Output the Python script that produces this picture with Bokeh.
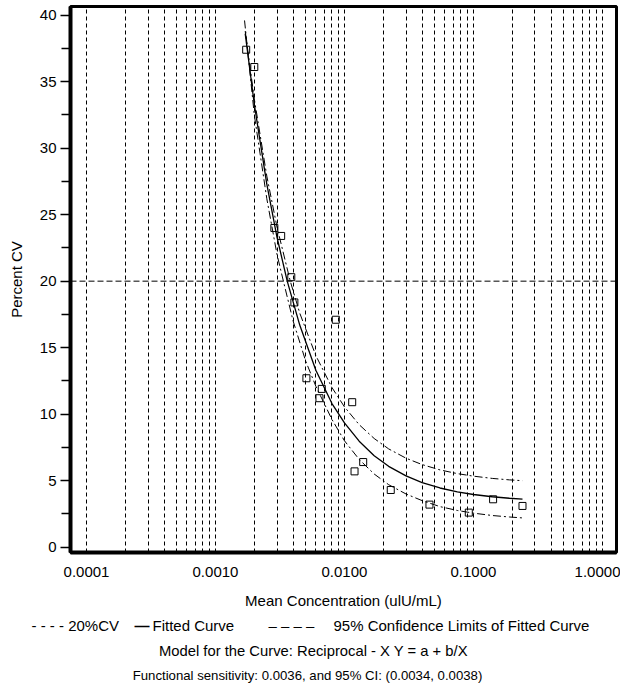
from bokeh.plotting import figure
from bokeh.layouts import column
from bokeh.models import FixedTicker, PrintfTickFormatter, Span, Range1d
from bokeh.core.properties import value
from bokeh.embed import file_html
from bokeh.resources import INLINE

# ---- data ----
conc = [0.00173, 0.00200, 0.00286, 0.00323, 0.00387, 0.00409, 0.00857, 0.00507, 0.00667,
        0.00640, 0.01148, 0.01397, 0.01197, 0.02285, 0.0456, 0.0920, 0.142, 0.240]
cv = [37.4, 36.1, 24.0, 23.4, 20.3, 18.4, 17.1, 12.7, 11.9,
      11.2, 10.9, 6.4, 5.7, 4.3, 3.2, 2.6, 3.6, 3.1]

fit_x = [0.0017, 0.002, 0.0025, 0.003, 0.0036, 0.0045, 0.006, 0.008, 0.01, 0.013,
         0.017, 0.022, 0.03, 0.04, 0.055, 0.075, 0.1, 0.14, 0.19, 0.24]
fit_y = [38.6, 33.3, 27.3, 23.3, 20.0, 16.7, 13.3, 10.8, 9.35, 7.97,
         6.88, 6.08, 5.36, 4.86, 4.45, 4.16, 3.96, 3.79, 3.68, 3.61]

upper_x = [0.0017, 0.002, 0.0025, 0.003, 0.0038, 0.0045, 0.006, 0.008, 0.01, 0.013,
           0.017, 0.022, 0.03, 0.04, 0.055, 0.075, 0.1, 0.14, 0.19, 0.24]
upper_y = [38.8, 33.7, 27.9, 24.06, 20.0, 17.6, 14.4, 12.0, 10.55, 9.21,
           8.17, 7.39, 6.69, 6.21, 5.81, 5.53, 5.34, 5.17, 5.06, 5.0]

lower_x = [0.00168, 0.002, 0.0025, 0.003, 0.0034, 0.004, 0.005, 0.006, 0.008, 0.01, 0.013,
           0.017, 0.022, 0.03, 0.04, 0.055, 0.075, 0.1, 0.14, 0.19, 0.24]
lower_y = [39.6, 32.5, 26.2, 22.0, 19.8, 17.0, 14.0, 12.1, 9.6, 8.0, 6.6,
           5.5, 4.7, 4.0, 3.5, 3.05, 2.76, 2.56, 2.38, 2.27, 2.2]

cv_limit = 20

x_ticks = [0.0001, 0.001, 0.01, 0.1, 1.0]
x_grid = [0.0001, 0.0002, 0.0003, 0.0004, 0.0005, 0.0006, 0.0007, 0.0008, 0.0009,
          0.001, 0.002, 0.003, 0.004, 0.005, 0.006, 0.007, 0.008, 0.009,
          0.01, 0.02, 0.03, 0.04, 0.05, 0.06, 0.07, 0.08, 0.09,
          0.1, 0.2, 0.3, 0.4, 0.5, 0.6, 0.7, 0.8, 0.9, 1.0]
y_ticks = [0, 5, 10, 15, 20, 25, 30, 35, 40]
y_minor = [2.5, 7.5, 12.5, 17.5, 22.5, 27.5, 32.5, 37.5]

legend_parts = ["- - - -  20%CV", "Fitted Curve", "\u2013 \u2013 \u2013 \u2013",
                "95% Confidence Limits of Fitted Curve"]
legend_dash = "\u2014"
model_text = "Model for the Curve: Reciprocal - X Y = a + b/X"
sens_text = "Functional sensitivity: 0.0036, and 95% CI: (0.0034, 0.0038)"

FONT = "Liberation Sans"

p = figure(width=620, height=612, x_axis_type="log",
           x_range=Range1d(10 ** -4.124, 10 ** 0.109), y_range=Range1d(-0.4, 40.65),
           output_backend="svg", toolbar_location=None,
           min_border_left=70, min_border_right=4, min_border_top=6, min_border_bottom=60)
p.frame_align = False

p.outline_line_color = "black"
p.outline_line_width = 3
p.background_fill_color = "white"

# grids
p.xgrid.ticker = FixedTicker(ticks=x_grid)
p.xgrid.grid_line_color = "black"
p.xgrid.grid_line_dash = "4 3"
p.xgrid.grid_line_width = 1
p.ygrid.visible = False

# x axis
xa = p.xaxis[0]
xa.ticker = FixedTicker(ticks=x_ticks, minor_ticks=[])
xa.formatter = PrintfTickFormatter(format="%.4f")
xa.major_tick_out = 0
xa.major_tick_in = 0
xa.minor_tick_out = 0
xa.minor_tick_in = 0
xa.axis_line_width = 4
xa.axis_line_color = "black"
xa.major_label_text_font = FONT
xa.major_label_text_font_size = "15px"
xa.major_label_text_color = "black"
xa.major_label_standoff = 14
xa.axis_label = "Mean Concentration (ulU/mL)"
xa.axis_label_text_font = FONT
xa.axis_label_text_font_size = "15px"
xa.axis_label_text_font_style = "normal"
xa.axis_label_text_color = "black"
xa.axis_label_standoff = 12

# y axis
ya = p.yaxis[0]
ya.ticker = FixedTicker(ticks=y_ticks, minor_ticks=y_minor)
ya.major_tick_out = 10
ya.major_tick_in = 0
ya.minor_tick_out = 9
ya.minor_tick_in = 0
ya.major_tick_line_width = 1.3
ya.minor_tick_line_width = 1.3
ya.major_tick_line_color = "black"
ya.minor_tick_line_color = "black"
ya.axis_line_width = 4
ya.axis_line_color = "black"
ya.major_label_text_font = FONT
ya.major_label_text_font_size = "15px"
ya.major_label_text_color = "black"
ya.major_label_standoff = 4
ya.axis_label = "Percent CV"
ya.axis_label_text_font = FONT
ya.axis_label_text_font_size = "15px"
ya.axis_label_text_font_style = "normal"
ya.axis_label_text_color = "black"
ya.axis_label_standoff = 12

# 20% CV line
p.add_layout(Span(location=cv_limit, dimension="width", line_color="black",
                  line_dash="6 3", line_width=1))

# curves
p.line(upper_x, upper_y, line_color="black", line_width=1, line_dash="8 3 2 3")
p.line(lower_x, lower_y, line_color="black", line_width=1, line_dash="8 3 2 3")
p.line(fit_x, fit_y, line_color="black", line_width=1.3)

# points
p.scatter(conc, cv, marker="square", size=7, fill_color=None,
          line_color="black", line_width=1)

# caption block (legend / model / sensitivity lines)
cap_h = 72
cap = figure(width=620, height=cap_h, x_range=Range1d(0, 620), y_range=Range1d(cap_h, 0),
             output_backend="svg", toolbar_location=None,
             x_axis_location=None, y_axis_location=None,
             min_border=0, min_border_left=0, min_border_right=0,
             min_border_top=0, min_border_bottom=0)
cap.frame_align = False
cap.outline_line_color = None
cap.xgrid.visible = False
cap.ygrid.visible = False
cap.text(x=[31, 152, 268, 333], y=[13, 13, 13, 13], text=legend_parts,
         text_align="left", text_baseline="middle",
         text_font=value(FONT), text_font_size=value("15px"), text_color="black")
cap.text(x=[134], y=[13], text=[legend_dash],
         text_align="left", text_baseline="middle",
         text_font=value(FONT), text_font_size=value("15px"),
         text_font_style="bold", text_color="black")
cap.text(x=[313], y=[38], text=[model_text],
         text_align="center", text_baseline="middle",
         text_font=value(FONT), text_font_size=value("14.8px"), text_color="black")
cap.text(x=[307], y=[63], text=[sens_text],
         text_align="center", text_baseline="middle",
         text_font=value(FONT), text_font_size=value("13.2px"), text_color="black")

layout = column(p, cap, spacing=0)
open("out.html", "w").write(file_html(layout, INLINE))
